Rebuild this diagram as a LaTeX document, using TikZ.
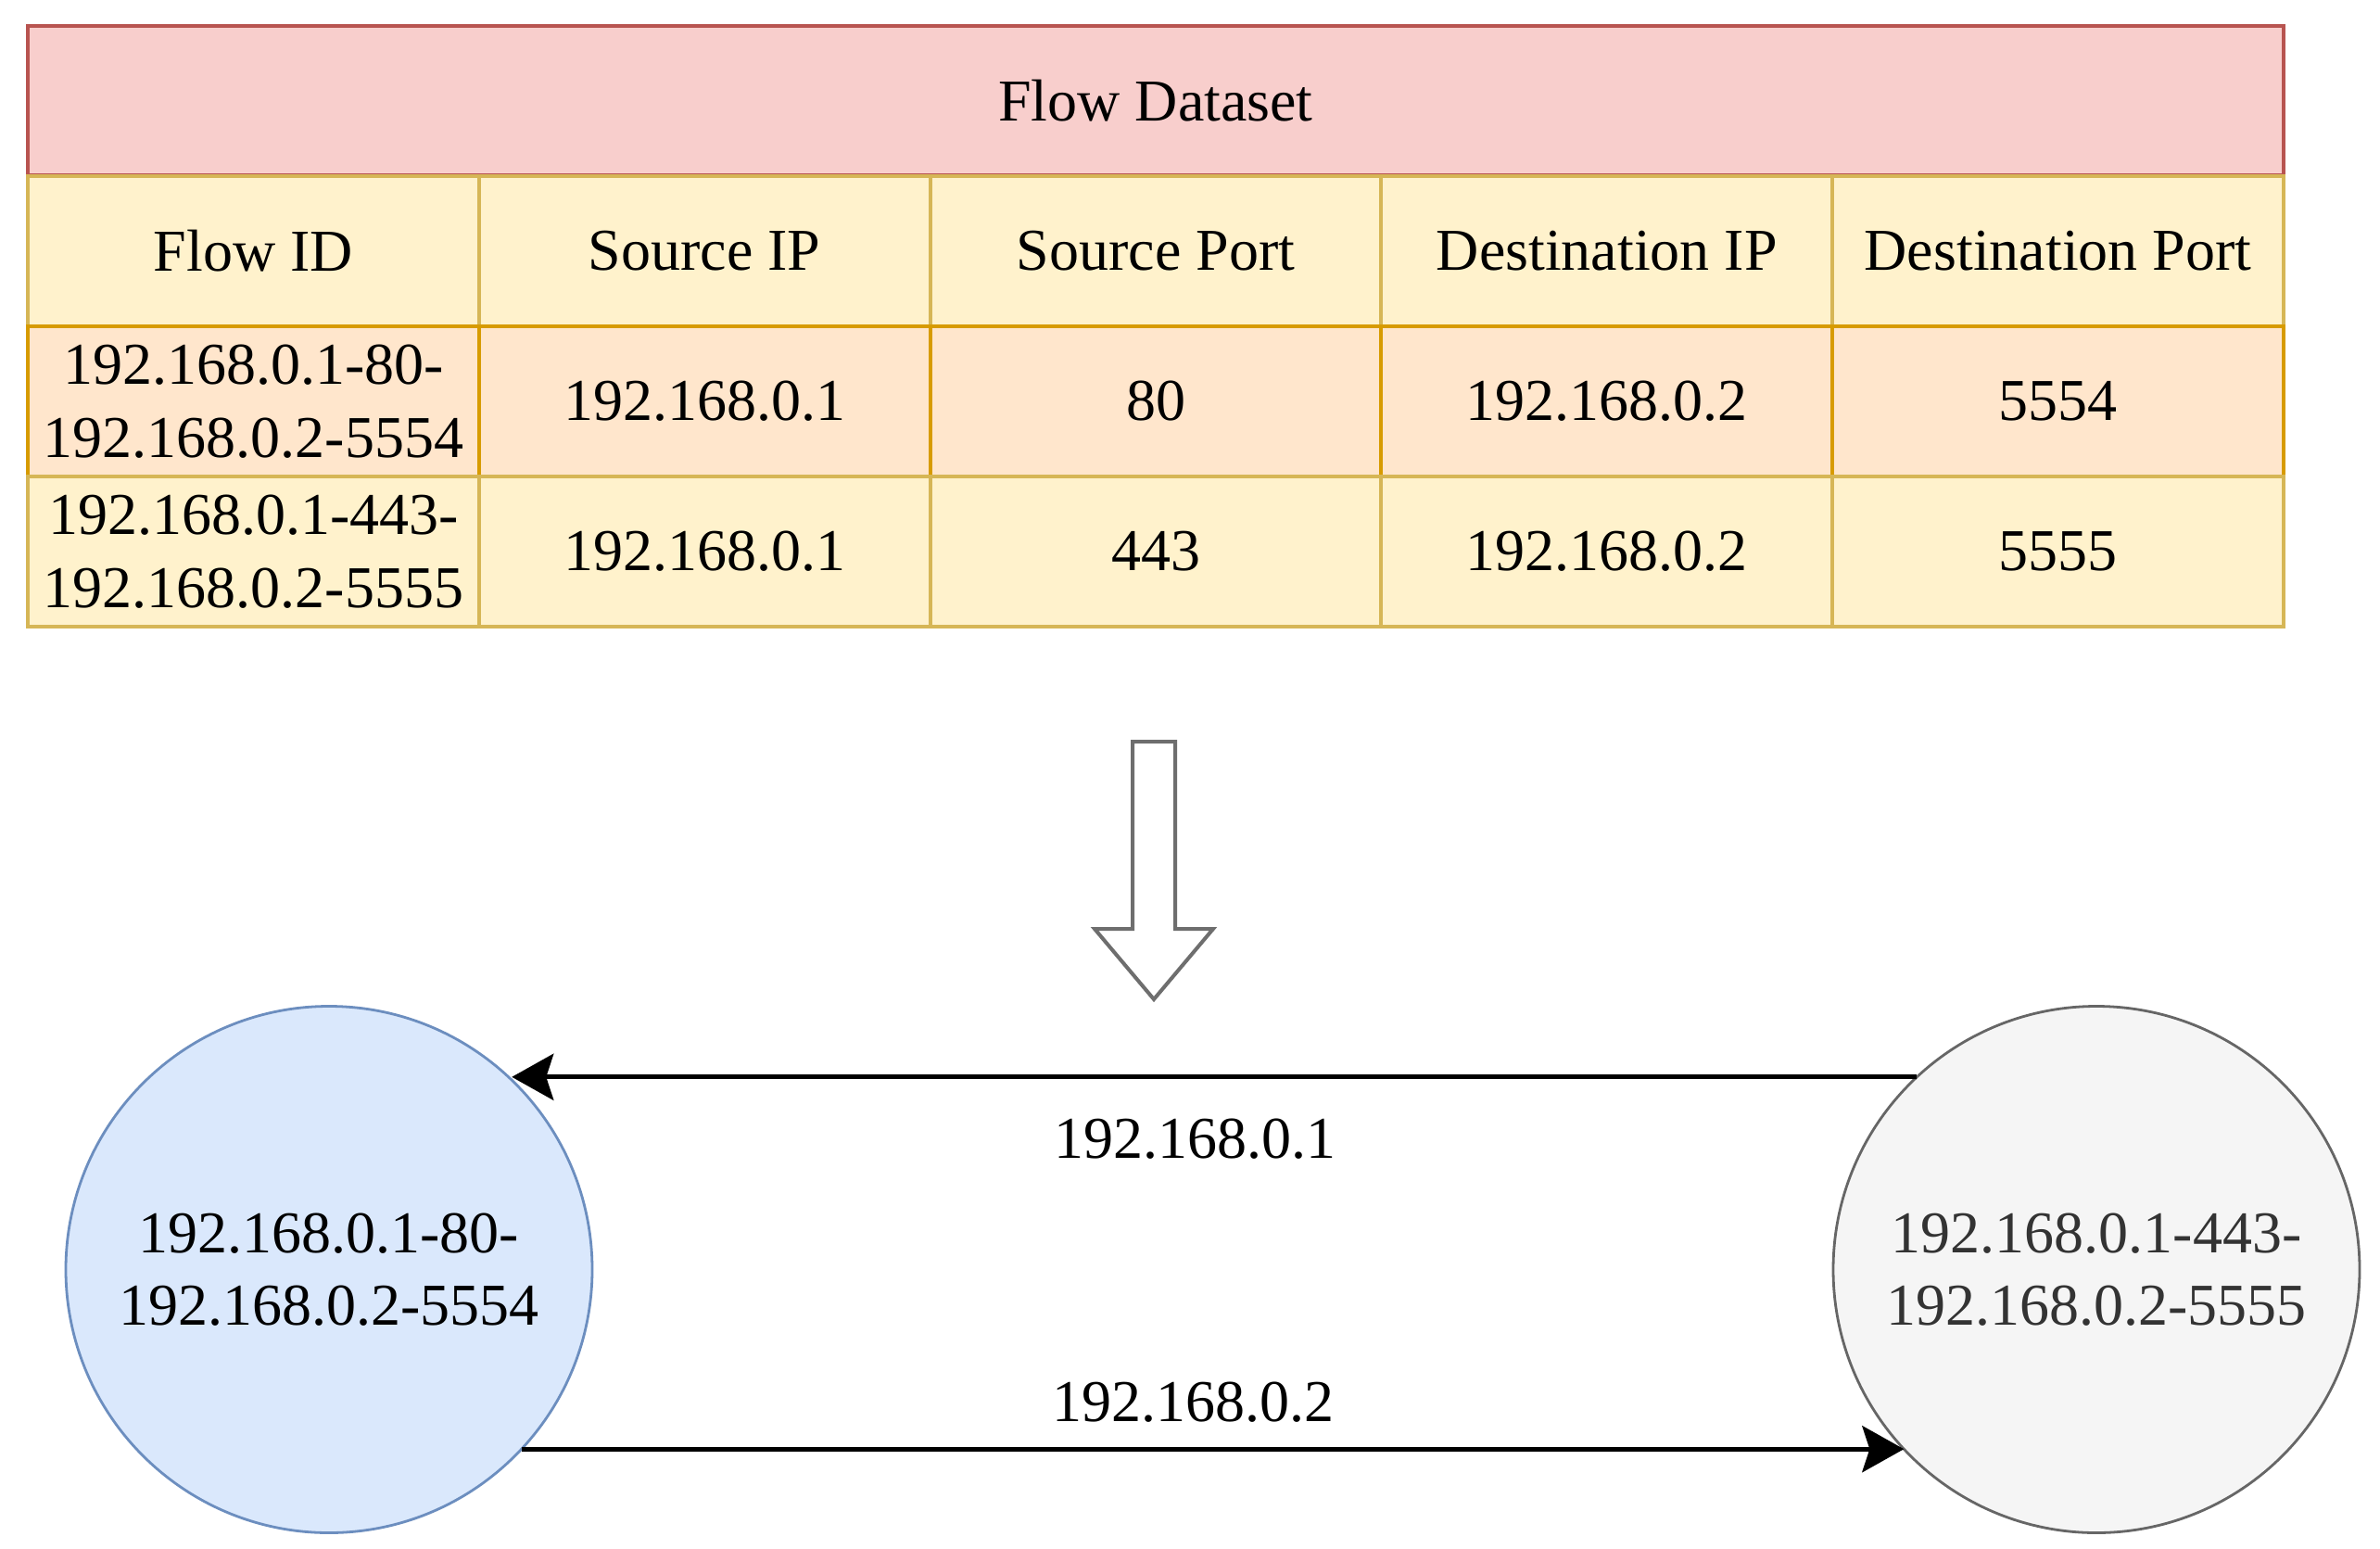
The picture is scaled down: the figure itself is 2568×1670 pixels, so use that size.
\documentclass[tikz,border=0pt]{standalone}
\usepackage{fontspec}
\setmainfont{Liberation Serif}
\usetikzlibrary{arrows.meta}
\definecolor{titlefill}{HTML}{F8CECC}
\definecolor{titledraw}{HTML}{B85450}
\definecolor{yfill}{HTML}{FFF2CC}
\definecolor{ydraw}{HTML}{D6B656}
\definecolor{ofill}{HTML}{FFE6CC}
\definecolor{odraw}{HTML}{D79B00}
\definecolor{bfill}{HTML}{DAE8FC}
\definecolor{bdraw}{HTML}{6C8EBF}
\definecolor{gfill}{HTML}{F5F5F5}
\definecolor{gdraw}{HTML}{666666}
\definecolor{gtext}{HTML}{333333}
\definecolor{bigarrow}{HTML}{6E6E6E}
\begin{document}
\begin{tikzpicture}[x=0.25pt,y=-0.25pt,
  every node/.style={font=\fontsize{16}{19.65}\selectfont, align=center, inner sep=0pt, outer sep=0pt},
  cell/.style={rectangle, minimum width=121.7pt, minimum height=40.5pt, line width=1pt},
  titlecell/.style={rectangle, minimum width=608.5pt, minimum height=40.25pt, line width=1pt, fill=titlefill, draw=titledraw},
  headcell/.style={cell, fill=yfill, draw=ydraw},
  oddcell/.style={cell, fill=ofill, draw=odraw},
  evencell/.style={cell, fill=yfill, draw=ydraw},
  flownode/.style={circle, minimum size=142pt, line width=0.7pt},
  conn/.style={line width=1.25pt, -{Stealth[length=11.25pt, width=12.5pt, inset=2pt]}},
]
\fill[white] (0,0) rectangle (2568,1670);
\useasboundingbox (0,0) rectangle (2568,1670);

% title
\node[titlecell] (title) at (1247,108.5) {Flow Dataset};

% header row
\node[headcell] (h1) at (273.4,270.5) {Flow ID};
\node[headcell] (h2) at (760.2,270.5) {Source IP};
\node[headcell] (h3) at (1247,270.5) {Source Port};
\node[headcell] (h4) at (1733.8,270.5) {Destination IP};
\node[headcell] (h5) at (2220.6,270.5) {Destination Port};

% row 1
\node[oddcell] (a1) at (273.4,433) {192.168.0.1-80-\\192.168.0.2-5554};
\node[oddcell] (a2) at (760.2,433) {192.168.0.1};
\node[oddcell] (a3) at (1247,433) {80};
\node[oddcell] (a4) at (1733.8,433) {192.168.0.2};
\node[oddcell] (a5) at (2220.6,433) {5554};

% row 2
\node[evencell] (b1) at (273.4,595) {192.168.0.1-443-\\192.168.0.2-5555};
\node[evencell] (b2) at (760.2,595) {192.168.0.1};
\node[evencell] (b3) at (1247,595) {443};
\node[evencell] (b4) at (1733.8,595) {192.168.0.2};
\node[evencell] (b5) at (2220.6,595) {5555};

% big hollow arrow
\draw[bigarrow, fill=white, line width=1pt, line join=miter]
  (1222,800) -- (1268,800) -- (1268,1002) -- (1309,1002) -- (1245,1078)
  -- (1181,1002) -- (1222,1002) -- cycle;

% circles
\node[flownode, fill=bfill, draw=bdraw] (L) at (355,1369.5) {192.168.0.1-80-\\192.168.0.2-5554};
\node[flownode, fill=gfill, draw=gdraw, text=gtext] (R) at (2262,1369.5) {192.168.0.1-443-\\192.168.0.2-5555};

% connectors
\draw[conn] (R.133.06) -- node[pos=0.514, below=11.4pt] (lab1) {192.168.0.1} (R.133.06 -| L.46.94);
\draw[conn] (L.-43.5) -- node[pos=0.486, above=7.1pt] (lab2) {192.168.0.2} (L.-43.5 -| R.223.5);
\end{tikzpicture}
\end{document}
